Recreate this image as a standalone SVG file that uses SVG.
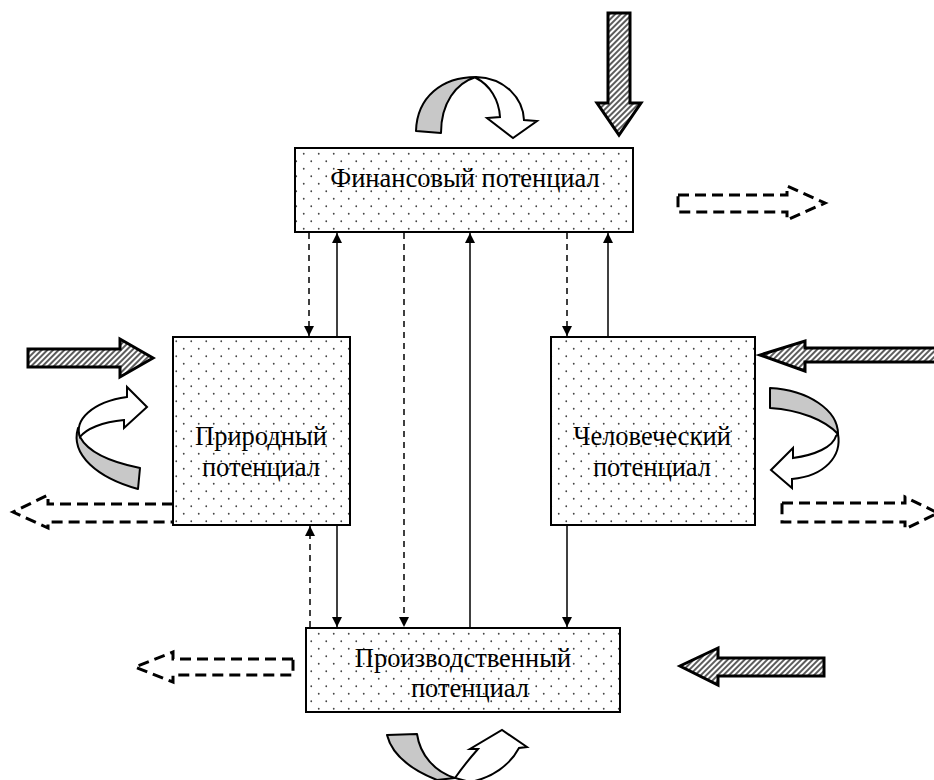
<svg xmlns="http://www.w3.org/2000/svg" width="934" height="780" viewBox="0 0 934 780">
<style>
.box{fill:url(#dots);stroke:#000;stroke-width:2}
.lbl{font-family:"Liberation Serif","Times New Roman",serif;font-size:26.5px;fill:#000;text-anchor:middle}
.solid{stroke:#000;stroke-width:1.5;fill:none;marker-end:url(#ah)}
.dash{stroke:#000;stroke-width:1.5;fill:none;stroke-dasharray:6 5;marker-end:url(#ah)}
.hat{fill:url(#hatch);stroke:#000;stroke-width:3;stroke-linejoin:miter}
.dout{fill:none;stroke:#000;stroke-width:3;stroke-dasharray:11 6}
.gray{fill:#c8c8c8;stroke:#000;stroke-width:2;stroke-linejoin:round}
.white{fill:#fff;stroke:#000;stroke-width:2;stroke-linejoin:miter}
</style>
<defs>
<pattern id="dots" width="15" height="15" patternUnits="userSpaceOnUse">
<rect width="15" height="15" fill="#fff"/>
<circle cx="3.75" cy="3.75" r="0.9" fill="#444"/>
<circle cx="11.25" cy="11.25" r="0.9" fill="#444"/>
</pattern>
<pattern id="hatch" width="4" height="4" patternUnits="userSpaceOnUse" patternTransform="rotate(45)">
<rect width="4" height="4" fill="#fff"/>
<line x1="1" y1="0" x2="1" y2="4" stroke="#333" stroke-width="1.6"/>
</pattern>
<marker id="ah" markerWidth="10" markerHeight="10" refX="10" refY="5" orient="auto" markerUnits="userSpaceOnUse">
<path d="M0,0 L10,5 L0,10 Z" fill="#000"/>
</marker>
</defs>

<g id="connectors">
<line class="dash" x1="309" y1="233" x2="309" y2="336"/>
<line class="solid" x1="337" y1="336" x2="337" y2="233"/>
<line class="dash" x1="404" y1="233" x2="404" y2="627"/>
<line class="solid" x1="470" y1="627" x2="470" y2="233"/>
<line class="dash" x1="567" y1="233" x2="567" y2="336"/>
<line class="solid" x1="608" y1="336" x2="608" y2="233"/>
<line class="dash" x1="310" y1="627" x2="310" y2="526"/>
<line class="solid" x1="337" y1="526" x2="337" y2="627"/>
<line class="solid" x1="567" y1="526" x2="567" y2="627"/>
</g>

<g id="fin">
<rect class="box" x="295" y="148" width="338" height="84"/>
<text class="lbl" x="465" y="187">Финансовый потенциал</text>
</g>
<g id="nat">
<rect class="box" x="173" y="337" width="177" height="188"/>
<text class="lbl" x="261" y="445">Природный</text>
<text class="lbl" x="261" y="476">потенциал</text>
</g>
<g id="hum">
<rect class="box" x="551" y="337" width="204" height="188"/>
<text class="lbl" x="652" y="445">Человеческий</text>
<text class="lbl" x="652" y="476">потенциал</text>
</g>
<g id="prod">
<rect class="box" x="306" y="628" width="314" height="84"/>
<text class="lbl" x="463" y="667">Производственный</text>
<text class="lbl" x="470" y="697">потенциал</text>
</g>

<g id="hatched-arrows">
<path class="hat" d="M608,13 L630,13 L630,103 L641,103 L619,135 L597,103 L608,103 Z"/>
<path class="hat" d="M28,349 L120,349 L120,339 L153,358 L120,377 L120,367 L28,367 Z"/>
<path class="hat" d="M940,348 L805,348 L805,341 L760,355 L805,371 L805,362 L940,362 Z"/>
<path class="hat" d="M824,658 L718,658 L718,648 L680,666 L718,685 L718,676 L824,676 Z"/>
</g>

<g id="dashed-arrows">
<path class="dout" d="M678,195 L787,195 L787,186 L825,203 L787,220 L787,212 L678,212 Z"/>
<path class="dout" d="M173,504 L48,504 L48,495 L13,512 L48,528 L48,522 L173,522"/>
<path class="dout" d="M782,503 L905,503 L905,497 L938,513 L905,529 L905,522 L782,522 Z"/>
<path class="dout" d="M293,659 L173,659 L173,652 L135,667 L173,682 L173,675 L293,675 Z"/>
</g>

<g id="curved-top">
<path class="gray" d="M416,131 C417,97 442,77 476,77 C456,83 441,103 441,133 Z"/>
<path class="white" d="M476,77 C505,78 523,98 524,120 L537,121 L513,138 L487,118 L500,117 C499,100 490,85 476,78 Z"/>
</g>
<g id="curved-left">
<path class="gray" d="M78,428 C70,455 98,478 138,489 L140,468 C110,462 88,452 80,437 Z"/>
<path class="white" d="M127,397 L127,387 L147,407 L124,428 L124,420 C102,422 86,429 80,437 C74,420 92,402 127,397 Z"/>
</g>
<g id="curved-right">
<path class="gray" d="M770,388 C808,390 838,410 838,434 C825,420 800,410 770,408 Z"/>
<path class="white" d="M838,434 C842,456 825,476 792,479 L792,488 L771,470 L793,448 L793,458 C815,455 833,447 836,436 Z"/>
</g>
<g id="curved-bottom">
<path class="gray" d="M387,735 L417,734 C420,755 435,772 455,778 L437,780 C412,770 392,755 387,735 Z"/>
<path class="white" d="M455,778 C462,768 470,758 478,749 L470,749 L502,730 L527,747 L519,748 C510,765 492,778 470,782 Z"/>
</g>
</svg>
